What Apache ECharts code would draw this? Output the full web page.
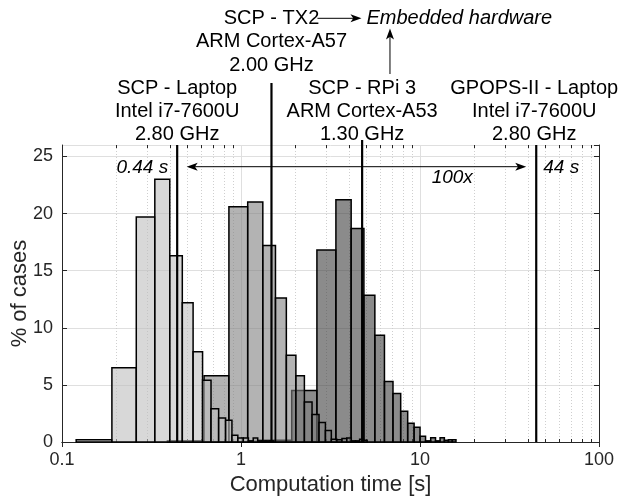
<!DOCTYPE html>
<html><head><meta charset="utf-8">
<script src="https://cdn.jsdelivr.net/npm/echarts@6/dist/echarts.min.js"></script>
<style>html,body{margin:0;padding:0;background:#fff}#c{width:618px;height:500px}</style>
</head><body><div id="c"></div>
<script>
// ---- data ----
// Histograms use equal linear-width bins, shown on a log time axis.
const laptopBinStart = 0.12, laptopBinWidth = 0.07;
const laptopValues = [0.2, 6.5, 19.7, 23.0, 16.3, 12.2, 7.9, 5.4, 2.9, 2.1, 1.9, 0.6, 0.35, 0.35, 0.1, 0.35, 0.1, 0.1, 0.1, 0.1];
const tx2BinStart = 0.388, tx2BinWidth = 0.234;
const tx2Values = [0.1, 5.8, 20.6, 21.0, 17.2, 12.6, 7.6, 5.8, 3.5, 2.4, 1.7, 1.0, 0.25, 0.2, 0.3, 0.35, 0.1, 0.1, 0.25, 0.15];
const rpiBinStart = 1.185, rpiBinWidth = 0.735;
const rpiValues = [0.15, 4.5, 16.8, 21.2, 18.7, 12.85, 9.35, 5.3, 4.25, 2.7, 1.65, 1.3, 0.5, 0.1, 0.38, 0.1, 0.38, 0.15, 0.2, 0.2];
const refTimes = [0.44, 1.48, 4.75, 44.6];
const refLabels = [
  ['SCP - Laptop', 'Intel i7-7600U', '2.80 GHz'],
  ['SCP - TX2', 'ARM Cortex-A57', '2.00 GHz'],
  ['SCP - RPi 3', 'ARM Cortex-A53', '1.30 GHz'],
  ['GPOPS-II - Laptop', 'Intel i7-7600U', '2.80 GHz']
];
const embeddedLabel = 'Embedded hardware';
const fastLabel = '0.44 s', slowLabel = '44 s', ratioLabel = '100x';
const xTicks = [0.1, 1, 10, 100];
const yTicks = [0, 5, 10, 15, 20, 25];
const xName = 'Computation time [s]', yName = '% of cases';

// ---- styling ----
const FF = '"Liberation Sans", Arial, Helvetica, sans-serif';
const AX = '#262626';
const minorTicks = [];
for (let d = 0; d < xTicks.length - 1; d++) for (let k = 2; k <= 9; k++) minorTicks.push(+(xTicks[d] * k).toPrecision(3));

function histSeries(name, start, width, values, fill, z) {
  return {
    type: 'custom', name, z, silent: true,
    data: values.map((v, i) => [start + i * width, start + (i + 1) * width, v]),
    encode: { x: [0, 1], y: 2 },
    renderItem: (params, api) => {
      const a = api.coord([api.value(0), 0]);
      const b = api.coord([api.value(1), api.value(2)]);
      return { type: 'rect', shape: { x: a[0], y: b[1], width: b[0] - a[0], height: a[1] - b[1] },
        style: { fill, stroke: '#000', lineWidth: 1.5 } };
    }
  };
}
function txt(text, x, y, align, italic, size) {
  return { type: 'text', style: { text, x, y, align, textAlign: align, verticalAlign: 'middle', textVerticalAlign: 'middle',
    font: (italic ? 'italic ' : '') + (size || 19) + 'px ' + FF, fill: '#000' } };
}
function arrowHead(tx, ty, dir) { // dir: 'r','l','u'
  const L = 11, W = 4;
  let pts;
  if (dir === 'r') pts = [[tx, ty], [tx - L, ty - W], [tx - L * 0.75, ty], [tx - L, ty + W]];
  else if (dir === 'l') pts = [[tx, ty], [tx + L, ty - W], [tx + L * 0.75, ty], [tx + L, ty + W]];
  else pts = [[tx, ty], [tx - W, ty + L], [tx, ty + L * 0.75], [tx + W, ty + L]];
  return { type: 'polygon', shape: { points: pts }, style: { fill: '#000' } };
}
function seg(x1, y1, x2, y2, w) {
  return { type: 'line', shape: { x1, y1, x2, y2 }, style: { stroke: '#000', lineWidth: w || 1 } };
}

const chart = echarts.init(document.getElementById('c'), null, { renderer: 'canvas' });
const option = {
  animation: false,
  backgroundColor: '#fff',
  grid: { left: 62, right: 19, top: 145, bottom: 58, containLabel: false, outerBoundsMode: 'none' },
  xAxis: [{
    type: 'log', logBase: 10, min: xTicks[0], max: xTicks[xTicks.length - 1], position: 'bottom',
    name: xName, nameLocation: 'middle', nameGap: 30,
    nameTextStyle: { fontSize: 22, color: AX, fontFamily: FF },
    axisLine: { show: true, lineStyle: { color: AX, width: 1 } },
    axisTick: { show: true, inside: true, length: 5, lineStyle: { color: AX } },
    axisLabel: { margin: 9, fontSize: 18, color: AX, fontFamily: FF, formatter: v => String(+(+v).toPrecision(3)) },
    splitLine: { show: true, lineStyle: { color: '#dfdfdf', width: 1 } }
  }, {
    type: 'log', logBase: 10, min: xTicks[0], max: xTicks[xTicks.length - 1], position: 'top',
    axisLine: { show: true, lineStyle: { color: AX, width: 1 } },
    axisTick: { show: true, inside: true, length: 5, lineStyle: { color: AX } },
    axisLabel: { show: false }, splitLine: { show: false }
  }],
  yAxis: [{
    type: 'value', min: 0, max: 26, interval: 5, position: 'left',
    name: yName, nameLocation: 'middle', nameGap: 31, nameMoveOverlap: false,
    nameTextStyle: { fontSize: 22, color: AX, fontFamily: FF },
    axisLine: { show: true, lineStyle: { color: AX, width: 1 } },
    axisTick: { show: true, inside: true, length: 5, lineStyle: { color: AX } },
    axisLabel: { margin: 9, fontSize: 18, color: AX, fontFamily: FF, showMaxLabel: false,
      formatter: v => (yTicks.indexOf(v) >= 0 ? String(v) : '') },
    splitLine: { show: true, lineStyle: { color: '#dfdfdf', width: 1 } }
  }, {
    type: 'value', min: 0, max: 26, interval: 5, position: 'right',
    axisLine: { show: true, lineStyle: { color: AX, width: 1 } },
    axisTick: { show: true, inside: true, length: 5, lineStyle: { color: AX } },
    axisLabel: { show: false }, splitLine: { show: false }
  }],
  series: [
    { // minor x grid (dotted) and minor ticks
      type: 'custom', z: 1, silent: true,
      data: minorTicks.map(v => [v, 0]), encode: { x: 0, y: 1 },
      renderItem: (params, api) => {
        const cs = params.coordSys;
        const x = Math.round(api.coord([api.value(0), 0])[0]) + 0.5;
        const top = cs.y, bot = cs.y + cs.height;
        return { type: 'group', children: [
          { type: 'line', shape: { x1: x, y1: top, x2: x, y2: bot }, style: { stroke: '#cfcfcf', lineWidth: 1, lineDash: [1, 2] } },
          { type: 'line', shape: { x1: x, y1: bot, x2: x, y2: bot - 3 }, style: { stroke: AX, lineWidth: 1 } },
          { type: 'line', shape: { x1: x, y1: top, x2: x, y2: top + 3 }, style: { stroke: AX, lineWidth: 1 } }
        ] };
      }
    },
    histSeries('SCP - RPi 3', rpiBinStart, rpiBinWidth, rpiValues, 'rgba(62,62,62,0.6)', 3),
    histSeries('SCP - TX2', tx2BinStart, tx2BinWidth, tx2Values, 'rgba(128,128,128,0.6)', 4),
    histSeries('SCP - Laptop', laptopBinStart, laptopBinWidth, laptopValues, 'rgba(190,190,190,0.6)', 5),
    { // reference lines + annotations
      type: 'custom', z: 10, silent: true, clip: false,
      data: refTimes.map(t => [t, 0]), encode: { x: 0, y: 1 },
      renderItem: (params, api) => {
        const i = params.dataIndex;
        const cs = params.coordSys;
        const x = api.coord([api.value(0), 0])[0];
        const bot = cs.y + cs.height, top = cs.y;
        const children = [];
        const lineTop = [top, top - 62, top - 5, top][i];
        children.push(seg(x, bot, x, lineTop, 2.2));
        const rows = (i === 1) ? [top - 126.7, top - 103.4, top - 80] : [top - 56.7, top - 33.4, top - 10.4];
        refLabels[i].forEach((s, k) => children.push(txt(s, i === 3 ? x - 2 : x, rows[k], 'center', false, 20)));
        if (i === 1) {
          const ay = rows[0];
          children.push(seg(x + 46, ay, x + 86, ay, 1));
          children.push(arrowHead(x + 90, ay, 'r'));
          children.push(txt(embeddedLabel, x + 95, ay, 'left', true, 20));
          const ux = x + 118.5;
          children.push(seg(ux, top - 71, ux, top - 113, 1));
          children.push(arrowHead(ux, top - 116.5, 'u'));
        }
        if (i === 0) {
          children.push(txt(fastLabel, x - 9, top + 22.6, 'right', true));
          const x2 = api.coord([refTimes[3], 0])[0];
          const ay = top + 21.7;
          children.push(seg(x + 12, ay, x2 - 13, ay, 1));
          children.push(arrowHead(x + 9.5, ay, 'l'));
          children.push(arrowHead(x2 - 10, ay, 'r'));
        }
        if (i === 3) {
          children.push(txt(slowLabel, x + 7, top + 22.6, 'left', true));
          children.push(txt(ratioLabel, x - 84, top + 32.6, 'center', true));
        }
        return { type: 'group', children };
      }
    }
  ]
};
chart.setOption(option);
</script>
</body></html>
